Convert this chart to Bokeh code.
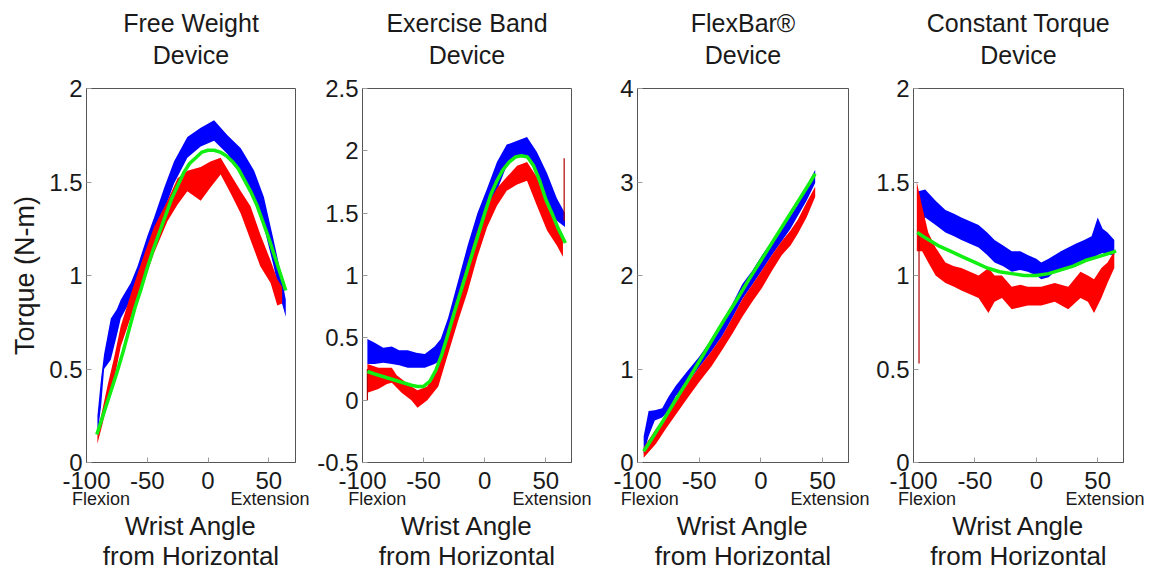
from bokeh.plotting import figure
from bokeh.layouts import row
from bokeh.models import Range1d, LinearAxis, FixedTicker, Title
from bokeh.embed import file_html
from bokeh.resources import INLINE

# ---------------- data ----------------
titles = [("Free Weight", "Device"), ("Exercise Band", "Device"),
          ("FlexBar\u00ae", "Device"), ("Constant Torque", "Device")]
x_ticks = [-100, -50, 0, 50]
y_ticks = [[0, 0.5, 1, 1.5, 2],
           [-0.5, 0, 0.5, 1, 1.5, 2, 2.5],
           [0, 1, 2, 3, 4],
           [0, 0.5, 1, 1.5, 2]]
y_label = "Torque (N-m)"
x_label = ("Wrist Angle", "from Horizontal")
dir_labels = ("Flexion", "Extension")

# Panel 1: Free Weight
fw_blue_x = [-91, -88, -85.5, -80, -75, -71.8, -63.6, -58, -50, -44.4, -36, -28, -17, -6, 5, 16, 27, 38, 46, 54, 60, 64]
fw_blue_lo = [0.15, 0.30, 0.50, 0.55, 0.68, 0.77, 0.87, 0.94, 1.08, 1.21, 1.35, 1.49, 1.63, 1.69, 1.72, 1.65, 1.54, 1.42, 1.26, 1.05, 0.87, 0.78]
fw_blue_hi = [0.25, 0.45, 0.58, 0.77, 0.82, 0.87, 0.96, 1.05, 1.21, 1.31, 1.47, 1.61, 1.74, 1.79, 1.83, 1.75, 1.68, 1.56, 1.42, 1.19, 1.01, 0.87]
fw_red_x = [-91, -87, -82.7, -77, -71.8, -65, -58, -51, -44.4, -33.4, -25, -17, -6, 2, 10.4, 18.6, 27, 35, 43, 51.5, 57, 61]
fw_red_lo = [0.10, 0.20, 0.32, 0.45, 0.62, 0.75, 0.87, 1.00, 1.12, 1.29, 1.38, 1.45, 1.40, 1.47, 1.54, 1.44, 1.33, 1.19, 1.05, 0.96, 0.84, 0.85]
fw_red_hi = [0.16, 0.28, 0.41, 0.57, 0.73, 0.87, 1.01, 1.14, 1.26, 1.40, 1.52, 1.56, 1.58, 1.61, 1.63, 1.54, 1.45, 1.37, 1.22, 1.08, 0.98, 0.94]
fw_fit_x = [-91.5, -85, -80, -75, -70, -65, -60, -55, -50, -45, -40, -35, -30, -25, -20, -15, -10, -5, 0, 5, 10, 15, 20, 25, 30, 35, 40, 45, 50, 55, 60, 64]
fw_fit_y = [0.15, 0.28, 0.38, 0.48, 0.59, 0.71, 0.83, 0.93, 1.04, 1.14, 1.23, 1.32, 1.41, 1.48, 1.55, 1.60, 1.63, 1.66, 1.67, 1.67, 1.66, 1.64, 1.61, 1.57, 1.51, 1.45, 1.38, 1.29, 1.20, 1.10, 1.00, 0.92]

# Panel 2: Exercise Band
eb_blue_x = [-96, -90, -83, -76, -70, -63, -56, -49, -41, -36, -30, -22, -14, -6, 2, 10, 18, 26.5, 34.6, 42.7, 51, 59, 65.7]
eb_blue_lo = [0.29, 0.29, 0.30, 0.29, 0.28, 0.26, 0.26, 0.26, 0.29, 0.32, 0.49, 0.72, 0.98, 1.24, 1.50, 1.68, 1.88, 1.96, 1.96, 1.82, 1.56, 1.44, 1.39]
eb_blue_hi = [0.49, 0.46, 0.42, 0.43, 0.40, 0.40, 0.38, 0.37, 0.43, 0.49, 0.66, 0.95, 1.24, 1.50, 1.70, 1.91, 2.05, 2.08, 2.11, 1.99, 1.82, 1.62, 1.50]
eb_red_x = [-96, -87, -80, -76, -72, -68, -60, -55, -47, -38, -30, -22, -14, -6, 2, 10, 18, 26.5, 34.6, 42.7, 51, 59, 64]
eb_red_lo = [0.06, 0.09, 0.13, 0.14, 0.10, 0.06, 0.00, -0.06, 0.00, 0.11, 0.37, 0.63, 0.87, 1.15, 1.39, 1.56, 1.68, 1.73, 1.76, 1.56, 1.36, 1.24, 1.15]
eb_red_hi = [0.29, 0.26, 0.26, 0.26, 0.20, 0.17, 0.11, 0.08, 0.11, 0.29, 0.58, 0.84, 1.10, 1.36, 1.56, 1.70, 1.79, 1.88, 1.91, 1.79, 1.56, 1.39, 1.30]
eb_fit_x = [-96, -90, -80, -70, -60, -55, -50, -45, -40, -35, -30, -25, -20, -15, -10, -5, 0, 5, 10, 15, 20, 25, 30, 35, 40, 45, 50, 55, 60, 66]
eb_fit_y = [0.23, 0.21, 0.18, 0.15, 0.12, 0.11, 0.11, 0.15, 0.24, 0.37, 0.53, 0.70, 0.86, 1.02, 1.18, 1.34, 1.50, 1.65, 1.76, 1.85, 1.91, 1.95, 1.96, 1.95, 1.88, 1.76, 1.61, 1.50, 1.38, 1.26]
eb_spike_x = [-96, 65]
eb_spike_lo = [0.0, 1.44]
eb_spike_hi = [0.25, 1.94]

# Panel 3: FlexBar
fb_blue_x = [-95, -91, -86, -80, -75, -69, -60, -50, -40, -31, -23, -15, -7, 1, 9, 17, 24, 30, 37, 44]
fb_blue_lo = [0.09, 0.28, 0.45, 0.48, 0.55, 0.71, 0.84, 1.02, 1.19, 1.36, 1.55, 1.75, 1.90, 2.06, 2.22, 2.37, 2.50, 2.64, 2.80, 2.99]
fb_blue_hi = [0.28, 0.55, 0.56, 0.58, 0.70, 0.82, 0.97, 1.13, 1.32, 1.52, 1.70, 1.91, 2.05, 2.22, 2.37, 2.53, 2.64, 2.76, 2.95, 3.13]
fb_red_x = [-95, -85, -77, -69, -60, -50, -40, -31, -23, -15, -7, 1, 9, 17, 24, 30, 37, 44]
fb_red_lo = [0.05, 0.20, 0.36, 0.51, 0.68, 0.86, 1.03, 1.21, 1.38, 1.56, 1.72, 1.87, 2.05, 2.22, 2.32, 2.45, 2.62, 2.84]
fb_red_hi = [0.16, 0.36, 0.50, 0.67, 0.84, 1.02, 1.19, 1.36, 1.55, 1.75, 1.90, 2.06, 2.22, 2.37, 2.48, 2.60, 2.78, 2.95]
fb_fit_x = [-95, -90, -80, -70, -60, -50, -40, -30, -20, -10, 0, 10, 20, 30, 40, 44]
fb_fit_y = [0.12, 0.22, 0.43, 0.65, 0.86, 1.08, 1.30, 1.52, 1.73, 1.95, 2.16, 2.37, 2.58, 2.79, 3.00, 3.09]

# Panel 4: Constant Torque
ct_blue_x = [-96, -90.5, -82, -74, -67, -61, -54, -47, -40, -34, -27, -20, -13, -7, 0, 4, 10, 15, 20, 26, 32, 39, 45, 50, 54, 58, 63.5]
ct_blue_lo = [1.23, 1.31, 1.27, 1.23, 1.21, 1.19, 1.17, 1.15, 1.11, 1.07, 1.05, 1.02, 1.03, 1.02, 1.00, 0.98, 0.99, 1.02, 1.03, 1.04, 1.05, 1.07, 1.09, 1.11, 1.12, 1.11, 1.11]
ct_blue_hi = [1.45, 1.46, 1.40, 1.35, 1.33, 1.31, 1.29, 1.27, 1.23, 1.19, 1.16, 1.13, 1.13, 1.11, 1.09, 1.07, 1.09, 1.11, 1.13, 1.15, 1.17, 1.19, 1.21, 1.31, 1.25, 1.23, 1.19]
ct_red_x = [-97.3, -93, -88, -82, -74, -67, -61, -54, -47, -39, -34, -28, -20, -13, -7, 4, 15, 26, 36, 42, 47, 53, 58, 63.5]
ct_red_lo = [1.13, 1.13, 1.07, 1.00, 0.96, 0.94, 0.92, 0.90, 0.88, 0.80, 0.86, 0.88, 0.82, 0.83, 0.84, 0.84, 0.86, 0.82, 0.88, 0.86, 0.80, 0.88, 0.96, 1.04]
ct_red_hi = [1.50, 1.37, 1.23, 1.15, 1.07, 1.05, 1.04, 1.02, 1.00, 1.04, 1.00, 1.00, 0.94, 0.95, 0.94, 0.94, 0.96, 0.94, 1.02, 1.00, 0.98, 1.04, 1.07, 1.13]
ct_fit_x = [-97, -90, -80, -70, -60, -50, -40, -30, -20, -10, 0, 10, 20, 30, 40, 50, 60, 65]
ct_fit_y = [1.23, 1.20, 1.16, 1.13, 1.10, 1.07, 1.04, 1.02, 1.01, 1.00, 1.00, 1.01, 1.03, 1.05, 1.08, 1.10, 1.12, 1.13]
ct_spike_x = [-95.5]
ct_spike_lo = [0.53]
ct_spike_hi = [1.23]

# ---------------- style / layout ----------------
FONT = "Liberation Sans"
TXT = "#1a1a1a"
FRAME = "#555555"
TICKC = "#9a9a9a"
BLUE, RED, GREEN, SPIKE = "#0000ff", "#ff0000", "#11ee11", "#b00000"

# per panel: figure width, borders, x max, y range, direction-label tick positions
layout_cfg = [
    dict(w=311, bl=86, br=16, bt=85, xmax=72, ylim=(0, 2), dpos=(-88, 51)),
    dict(w=291, bl=51, br=31, bt=85, xmax=71, ylim=(-0.5, 2.5), dpos=(-88, 55)),
    dict(w=270, bl=35, br=24, bt=87, xmax=71, ylim=(0, 4), dpos=(-90, 56)),
    dict(w=277, bl=41, br=26, bt=88, xmax=71, ylim=(0, 2), dpos=(-89, 56)),
]
series = [
    (fw_blue_x, fw_blue_lo, fw_blue_hi, fw_red_x, fw_red_lo, fw_red_hi, fw_fit_x, fw_fit_y, None),
    (eb_blue_x, eb_blue_lo, eb_blue_hi, eb_red_x, eb_red_lo, eb_red_hi, eb_fit_x, eb_fit_y, (eb_spike_x, eb_spike_lo, eb_spike_hi)),
    (fb_blue_x, fb_blue_lo, fb_blue_hi, fb_red_x, fb_red_lo, fb_red_hi, fb_fit_x, fb_fit_y, None),
    (ct_blue_x, ct_blue_lo, ct_blue_hi, ct_red_x, ct_red_lo, ct_red_hi, ct_fit_x, ct_fit_y, (ct_spike_x, ct_spike_lo, ct_spike_hi)),
]


def fmt(v):
    return f"{v:g}"


def tick_axis(ax, ticks, size="24px"):
    ax.ticker = FixedTicker(ticks=ticks, minor_ticks=[])
    ax.axis_line_color = FRAME
    ax.major_tick_line_color = TICKC
    ax.major_tick_in = 5
    ax.major_tick_out = 0
    ax.minor_tick_line_color = None
    ax.major_label_text_font = FONT
    ax.major_label_text_color = TXT
    ax.major_label_text_font_size = size
    ax.major_label_overrides = {t: fmt(t) for t in ticks}


def add_title(p, text, side, size, standoff):
    p.add_layout(Title(text=text, align="center", text_font=FONT, text_font_size=size,
                       text_font_style="normal", text_color=TXT, standoff=standoff), side)


def make_panel(i):
    c = layout_cfg[i]
    bx, blo, bhi, rx, rlo, rhi, fx, fy, spike = series[i]
    p = figure(width=c["w"], height=571,
               x_range=Range1d(-100, c["xmax"]), y_range=Range1d(*c["ylim"]),
               output_backend="svg", toolbar_location=None, title=None,
               min_border_left=c["bl"], min_border_right=c["br"],
               min_border_top=c["bt"], min_border_bottom=108)
    p.background_fill_color = "white"
    p.border_fill_color = "white"
    p.outline_line_color = FRAME
    p.outline_line_width = 1
    p.xgrid.visible = False
    p.ygrid.visible = False

    # data
    p.varea(x=bx, y1=blo, y2=bhi, fill_color=BLUE)
    p.varea(x=rx, y1=rlo, y2=rhi, fill_color=RED)
    if spike is not None:
        sx, slo, shi = spike
        p.segment(x0=sx, y0=slo, x1=sx, y1=shi, line_color=SPIKE, line_width=1.2)
    p.line(x=fx, y=fy, line_color=GREEN, line_width=3.5)

    # main axes
    xa = p.xaxis[0]
    tick_axis(xa, x_ticks)
    xa.major_label_standoff = 9
    ya = p.yaxis[0]
    tick_axis(ya, y_ticks[i])
    ya.major_label_standoff = 4
    if i == 0:
        ya.axis_label = y_label
        ya.axis_label_text_font = FONT
        ya.axis_label_text_font_size = "27px"
        ya.axis_label_text_font_style = "normal"
        ya.axis_label_text_color = TXT
        ya.axis_label_standoff = 6

    # Flexion / Extension labels
    d = LinearAxis(ticker=FixedTicker(ticks=list(c["dpos"]), minor_ticks=[]),
                   major_label_overrides={c["dpos"][0]: dir_labels[0], c["dpos"][1]: dir_labels[1]},
                   axis_line_color=None, major_tick_line_color=None, minor_tick_line_color=None,
                   major_label_text_font=FONT, major_label_text_font_size="18px",
                   major_label_text_color=TXT, major_label_standoff=-9)
    p.add_layout(d, "below")

    # x axis title: two centred lines
    add_title(p, x_label[0], "below", "26px", -5)
    add_title(p, x_label[1], "below", "26px", 1)

    # panel title: two centred lines (first added sits next to the frame)
    add_title(p, titles[i][1], "above", "25px", 39)
    add_title(p, titles[i][0], "above", "25px", -34)
    return p


panels = [make_panel(i) for i in range(4)]
lay = row(*panels)
open("out.html", "w").write(file_html(lay, INLINE))
